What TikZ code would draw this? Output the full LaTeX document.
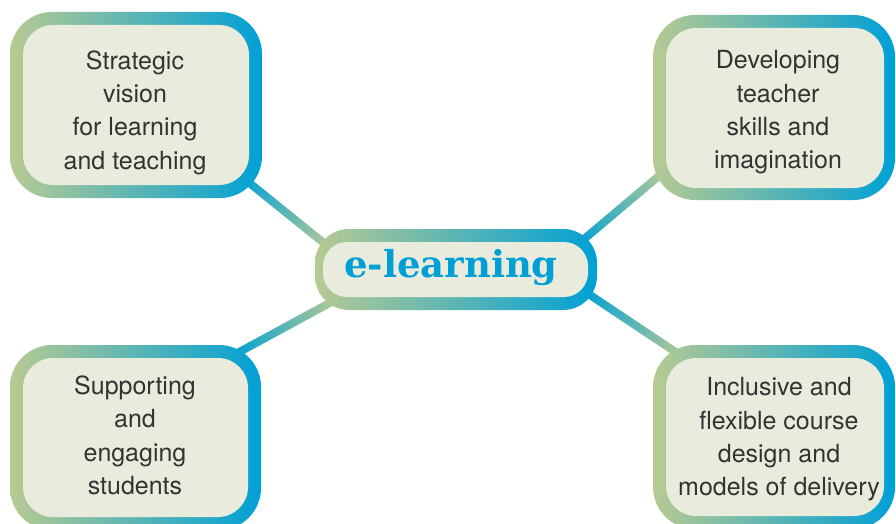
\documentclass[tikz,border=0pt]{standalone}
\usepackage{fontspec}
\setmainfont{TeX Gyre Heros}
\newfontfamily\slabfont{DejaVu Serif}
\usetikzlibrary{calc}
\definecolor{cgreen}{HTML}{B7CA92}
\definecolor{cblue}{HTML}{00A0D6}
\definecolor{cfill}{HTML}{E9EBDC}
\definecolor{ctext}{HTML}{333333}
\tikzset{
  frame/.style={left color=cgreen, right color=cblue, rounded corners=42pt, inner sep=0pt, draw=none},
  innerbox/.style={fill=cfill, rounded corners=30pt, inner sep=0pt},
  boxtext/.style={inner sep=0pt, align=center, text=ctext, font=\fontsize{25}{33.4}\selectfont},
  conn/.style={line width=8pt},
}
\newcommand\gradconn[2]{%
  \foreach \i in {0,...,39}{%
    \pgfmathsetmacro\gcmix{100-2.5*\i}%
    \draw[conn, draw=cblue!\gcmix!cgreen] ($(#1)!\i/40!(#2)$) -- ($(#1)!\i/40+0.027!(#2)$);
  }}
\begin{document}
\begin{tikzpicture}[x=1pt,y=-1pt]
\useasboundingbox (0,0) rectangle (896,524);
% connector end points
\coordinate (tlb) at (242,177);
\coordinate (tlg) at (330,248);
\coordinate (trg) at (666,170);
\coordinate (trb) at (577,245);
\coordinate (blb) at (232,356);
\coordinate (blg) at (337,299);
\coordinate (brb) at (584,291);
\coordinate (brg) at (683,357);
\gradconn{tlb}{tlg}
\gradconn{trb}{trg}
\gradconn{blb}{blg}
\gradconn{brb}{brg}
% boxes
\node[frame, minimum width=252pt, minimum height=186pt] (tlo) at (136,105) {};
\node[innerbox, minimum width=226pt, minimum height=160pt] (tl) at (136,105) {};
\node[boxtext] (tlt) at (135,112.5) {Strategic\\vision\\for learning\\and teaching};
\node[frame, minimum width=242pt, minimum height=185pt] (tro) at (774,107.5) {};
\node[innerbox, minimum width=218pt, minimum height=160pt] (tr) at (775,108) {};
\node[boxtext] (trt) at (778,112.5) {Developing\\teacher\\skills and\\imagination};
\node[frame, minimum width=251pt, minimum height=185pt] (blo) at (135.5,437.5) {};
\node[innerbox, minimum width=225pt, minimum height=159pt] (bl) at (135.5,437.5) {};
\node[boxtext] (blt) at (135,435.5) {Supporting\\and\\engaging\\students};
\node[frame, minimum width=242pt, minimum height=184pt] (bro) at (774,437) {};
\node[innerbox, minimum width=218pt, minimum height=158pt] (br) at (775,437) {};
\node[boxtext] (brt) at (779,439.5) {Inclusive and\\flexible course\\design and\\models of delivery};
% centre
\node[frame, rounded corners=34pt, minimum width=282pt, minimum height=81pt] (co) at (456,269.5) {};
\node[fill=cfill, rounded corners=24pt, inner sep=0pt, minimum width=265pt, minimum height=55pt] (c) at (455.5,269.5) {};
\node[text=cblue, font=\slabfont\bfseries\fontsize{37}{37}\selectfont, inner sep=0pt] (ct) at (451,268) {e-learning};
\end{tikzpicture}
\end{document}
